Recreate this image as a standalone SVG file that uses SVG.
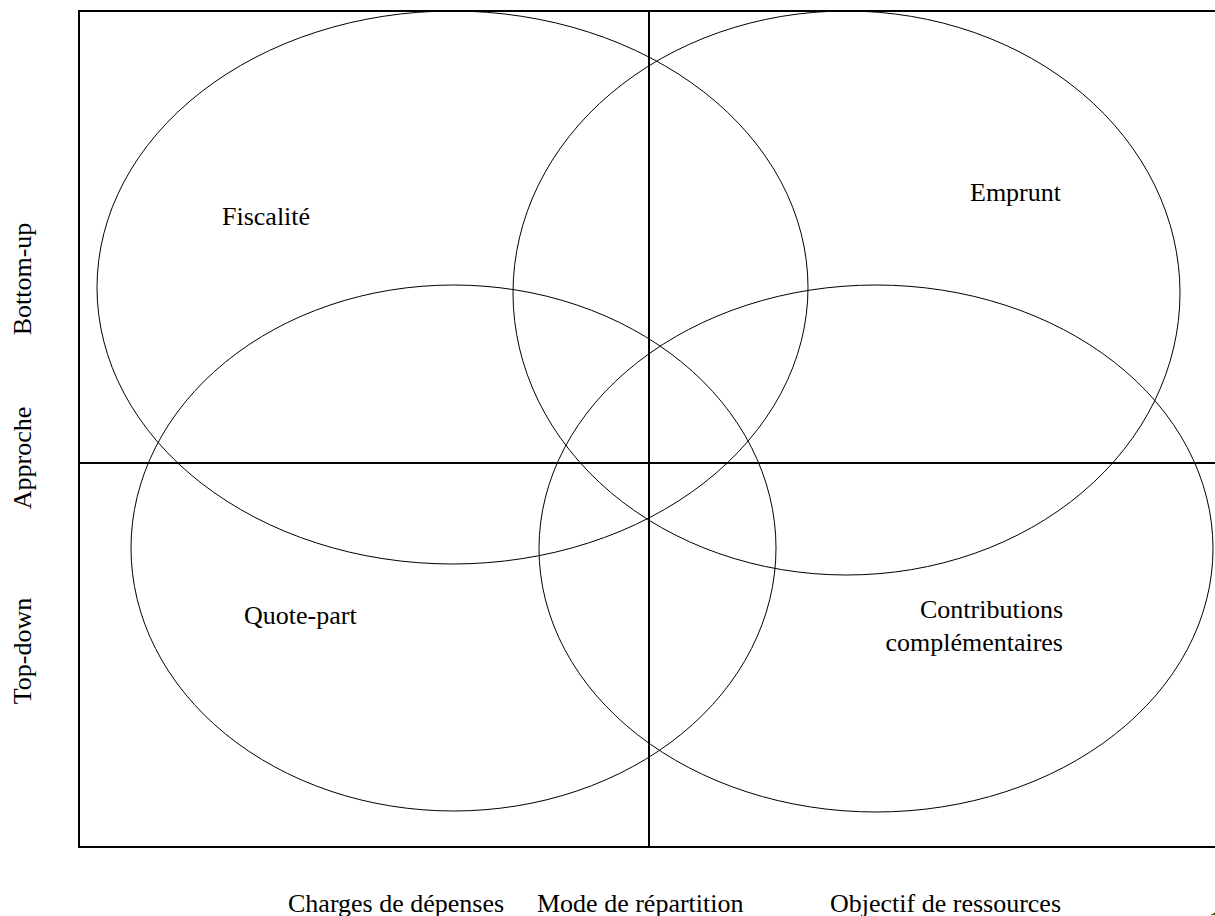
<svg xmlns="http://www.w3.org/2000/svg" width="1215" height="916" viewBox="0 0 1215 916">
<style>
.lbl{font-family:"Liberation Serif","Times New Roman",serif;font-size:26px;fill:#000}
.ell{fill:none;stroke:#000;stroke-width:1}
.ax{fill:none;stroke:#000;stroke-width:2}
</style>
<rect width="1215" height="916" fill="#fff"/>
<g id="frame">
<rect class="ax" x="79" y="11" width="1200" height="836"/>
</g>
<g id="connectors">
<line class="ax" x1="649" y1="11" x2="649" y2="847"/>
<line class="ax" x1="79" y1="463" x2="1215" y2="463"/>
</g>
<g id="fiscalite">
<ellipse class="ell" cx="452.5" cy="287.5" rx="355.5" ry="276.5"/>
<text class="lbl" x="222" y="225">Fiscalité</text>
</g>
<g id="emprunt">
<ellipse class="ell" cx="846.5" cy="293" rx="333.5" ry="282"/>
<text class="lbl" x="970" y="201">Emprunt</text>
</g>
<g id="quotepart">
<ellipse class="ell" cx="453.5" cy="548" rx="322.5" ry="263"/>
<text class="lbl" x="244" y="624">Quote-part</text>
</g>
<g id="contributions">
<ellipse class="ell" cx="876" cy="548.5" rx="337" ry="263.5"/>
<text class="lbl" x="1063" y="618" text-anchor="end">Contributions</text>
<text class="lbl" x="1063" y="651" text-anchor="end">complémentaires</text>
</g>
<g id="axis-labels">
<text class="lbl" transform="translate(31,279) rotate(-90)" text-anchor="middle">Bottom-up</text>
<text class="lbl" transform="translate(31,458) rotate(-90)" text-anchor="middle">Approche</text>
<text class="lbl" transform="translate(31,651) rotate(-90)" text-anchor="middle">Top-down</text>
<text class="lbl" x="288" y="912">Charges de dépenses</text>
<text class="lbl" x="537" y="912">Mode de répartition</text>
<text class="lbl" x="830" y="912">Objectif de ressources</text>
<text class="lbl" x="1209" y="929">1</text>
</g>
</svg>
